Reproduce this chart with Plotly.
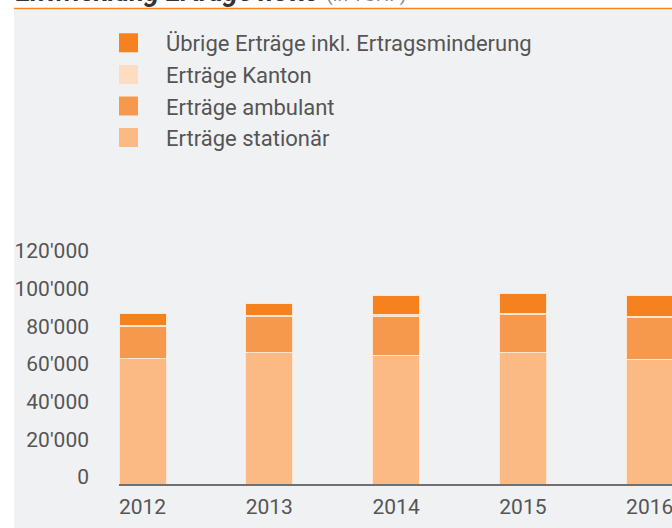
import plotly.graph_objects as go

years = ["2012", "2013", "2014", "2015", "2016"]
stationaer = [66800, 69500, 68400, 69500, 66300]
ambulant = [16500, 19100, 20200, 20300, 21800]
kanton = [1000, 700, 1200, 900, 500]
uebrige = [6400, 6700, 10100, 10100, 11300]

series_names = ["Erträge stationär", "Erträge ambulant", "Erträge Kanton",
                "Übrige Erträge inkl. Ertragsminderung"]
series_values = [stationaer, ambulant, kanton, uebrige]
colors = ["#fbb984", "#f7994c", "#fddcc0", "#f6811f"]

y_tickvals = [0, 20000, 40000, 60000, 80000, 100000, 120000]
y_ticktext = ["0", "20'000", "40'000", "60'000", "80'000", "100'000", "120'000"]

W, H = 672, 528
ml, mr, mt, mb = 119, 0, 10, 44
pw, ph = W - ml - mr, H - mt - mb
px_per_unit = 37.7 / 20000.0
ymax = ph / px_per_unit


def px_x(p):
    return (p - ml) / pw


def px_y(p):
    return (H - mb - p) / ph


fig = go.Figure()
for name, vals, col in zip(series_names, series_values, colors):
    fig.add_trace(go.Bar(
        x=list(range(len(years))), y=vals, name=name,
        marker=dict(color=col, line=dict(color="#fde6d3", width=1)),
        showlegend=False,
    ))

# legend entries (top to bottom)
for name, col in reversed(list(zip(series_names, colors))):
    fig.add_trace(go.Scatter(
        x=[None], y=[None], mode="markers", name=name,
        marker=dict(symbol="square", size=19, color=col,
                    line=dict(color=col, width=3)),
        showlegend=True,
    ))

fig.update_layout(
    width=W, height=H,
    margin=dict(l=ml, r=mr, t=mt, b=mb, autoexpand=False),
    paper_bgcolor="white",
    plot_bgcolor="rgba(0,0,0,0)",
    barmode="stack",
    bargap=0.629,
    font=dict(family="Roboto", color="#555555"),
    legend=dict(
        x=px_x(91), y=px_y(22), xanchor="left", yanchor="top",
        font=dict(size=22, color="#555555"),
        itemsizing="trace", traceorder="normal", itemwidth=65,
        bgcolor="rgba(0,0,0,0)",
    ),
    xaxis=dict(
        range=[-0.1856, 4.176], tickmode="array",
        tickvals=list(range(len(years))), ticktext=years,
        showgrid=False, zeroline=False, showline=True,
        linecolor="#707070", linewidth=1.5,
        tickfont=dict(size=21, color="#555555"),
        ticks="", ticklabelstandoff=3, ticklabeloverflow="allow",
    ),
    yaxis=dict(
        range=[0, ymax], tickmode="array",
        tickvals=y_tickvals, ticktext=y_ticktext,
        showgrid=False, zeroline=False, showline=False,
        tickfont=dict(size=21, color="#555555"),
        ticks="", ticklabelstandoff=29, ticklabelshift=-7,
    ),
    shapes=[
        dict(type="rect", xref="paper", yref="paper",
             x0=px_x(14), x1=1.0, y0=px_y(H), y1=px_y(10),
             fillcolor="#f0f1f3", line=dict(width=0), layer="below"),
        dict(type="line", xref="paper", yref="paper",
             x0=px_x(14), x1=1.0, y0=px_y(8.5), y1=px_y(8.5),
             line=dict(color="#f58220", width=1.5), layer="above"),
    ],
    annotations=[
        dict(xref="paper", yref="paper", x=px_x(14), y=px_y(10),
             xanchor="left", yanchor="bottom", showarrow=False,
             text="<b><i>Entwicklung Erträge netto</i></b> "
                  "<span style='font-size:19px;color:#888888'>(in TCHF)</span>",
             font=dict(size=27, color="#333333", family="Roboto")),
    ],
)

fig.write_html(
    "out.html",
    config={"displayModeBar": False},
    post_script="document.body.style.margin='0';"
                "document.documentElement.style.overflow='hidden';",
)
